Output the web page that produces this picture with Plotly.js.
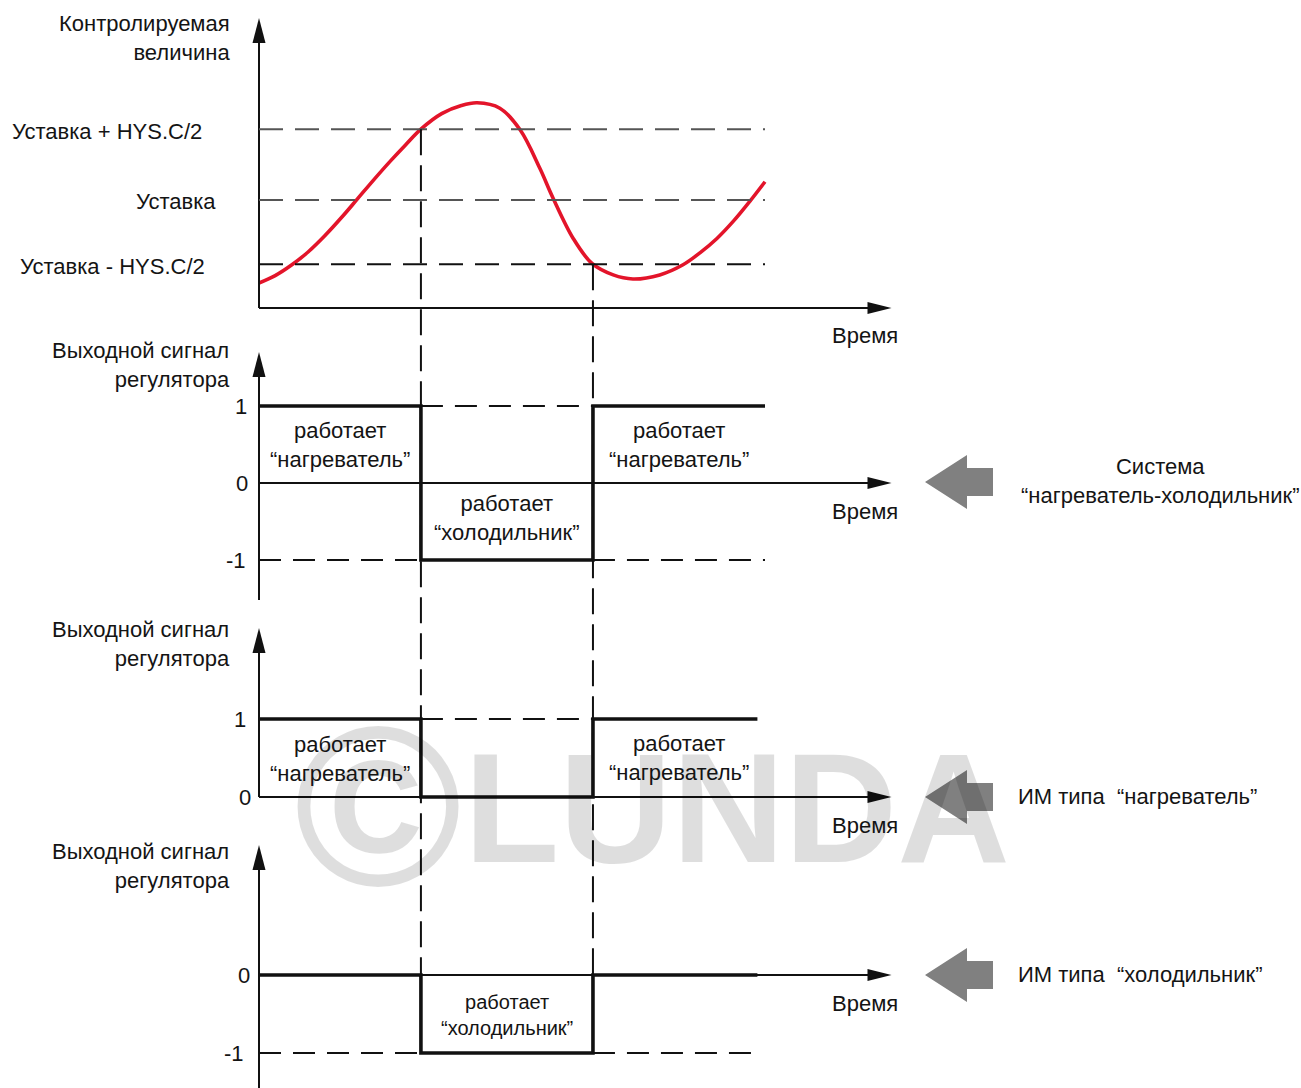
<!DOCTYPE html>
<html>
<head>
<meta charset="utf-8">
<script src="https://cdn.plot.ly/plotly-3.0.1.min.js"></script>
<style>html,body{margin:0;padding:0;background:#fff;}#chart{width:1301px;height:1088px;}</style>
</head>
<body>
<div id="chart"></div>
<script>
// ---------------- DATA ----------------
// Controlled value (red curve), time in arbitrary units
const curveTime  = [0, 0.32, 0.65, 0.97, 1.30, 1.63, 1.95, 2.28, 2.60, 2.90, 3.20, 3.61, 4.00, 4.31, 4.76, 5.16, 5.55, 5.81, 6.21, 6.58, 7.00, 7.39, 7.92, 8.38, 8.72, 9.05, 9.38, 9.70, 10.0];
const curveValue = [0.37, 0.48, 0.64, 0.83, 1.07, 1.34, 1.62, 1.91, 2.18, 2.42, 2.65, 2.88, 3.00, 3.04, 2.96, 2.64, 2.07, 1.63, 1.03, 0.66, 0.49, 0.43, 0.49, 0.64, 0.82, 1.03, 1.29, 1.58, 1.87];
// Threshold levels
const levelLabels = ['Уставка + HYS.C/2', 'Уставка', 'Уставка - HYS.C/2'];
const levelValues = [2.65, 1.6, 0.65];
// Switching moments
const switchTimes = [3.2, 6.6];
// Output signals
const sysTime     = [0, 3.2, 6.6, 10.0];
const sysSignal   = [1, -1, 1, 1];
const heatTime    = [0, 3.2, 6.6, 9.85];
const heatSignal  = [1, 0, 1, 1];
const coolTime    = [0, 3.2, 6.6, 9.85];
const coolSignal  = [0, -1, 0, 0];
const endTime = 10.0;
const endTimeShort = 9.85;
const axisEnd = 12.5;
// Texts
const yTitleTop = 'Контролируемая<br>величина';
const yTitleOut = 'Выходной сигнал<br>регулятора';
const timeLabel = 'Время';
const heatText = 'работает<br>“нагреватель”';
const coolText = 'работает<br>“холодильник”';
const sideTexts = ['Система<br>“нагреватель-холодильник”', 'ИМ типа \u00A0“нагреватель”', 'ИМ типа \u00A0“холодильник”'];
const watermarkSign = '©';
const watermarkWord = 'LUNDA';

// ---------------- LAYOUT HELPERS ----------------
const W = 1301, H = 1088;
const X0PX = 259, PPX = 50.6;          // time axis origin pixel and px per time unit
const panels = [
  {dom: [10, 318],  zero: 308, ppu: 67.5, tip: 18,  lineBottom: 308, title: 38},
  {dom: [340, 610], zero: 483, ppu: 77,   tip: 352, lineBottom: 600, title: 365},
  {dom: [615, 815], zero: 797, ppu: 78,   tip: 628, lineBottom: 797, title: 644},
  {dom: [830, 1088],zero: 975, ppu: 78,   tip: 845, lineBottom: 1088, title: 866}
];
const py = p => 1 - p / H;
const px = p => p / W;
const valToPaper = (i, v) => py(panels[i].zero - v * panels[i].ppu);
const yname = i => i === 0 ? 'y' : 'y' + (i + 1);

const FONT = 'Liberation Sans, Arial, sans-serif';
const TXT = '#141414';

const layout = {
  width: W, height: H, autosize: false,
  margin: {l: 0, r: 0, t: 0, b: 0, pad: 0},
  paper_bgcolor: '#ffffff', plot_bgcolor: 'rgba(0,0,0,0)',
  showlegend: false,
  font: {family: FONT, size: 22, color: TXT},
  xaxis: {domain: [0, 1], range: [-X0PX / PPX, (W - X0PX) / PPX], visible: false, fixedrange: true},
  shapes: [], annotations: []
};
panels.forEach((p, i) => {
  const key = i === 0 ? 'yaxis' : 'yaxis' + (i + 1);
  layout[key] = {
    domain: [py(p.dom[1]), py(p.dom[0])],
    range: [(p.zero - p.dom[1]) / p.ppu, (p.zero - p.dom[0]) / p.ppu],
    visible: false, fixedrange: true, anchor: 'x'
  };
});

// ---------------- TRACES ----------------
const traces = [
  {x: curveTime, y: curveValue, xaxis: 'x', yaxis: 'y', mode: 'lines',
   line: {color: '#e3142a', width: 3.6, shape: 'spline', smoothing: 1.0}, hoverinfo: 'skip'},
  {x: sysTime, y: sysSignal, xaxis: 'x', yaxis: 'y2', mode: 'lines',
   line: {color: '#111', width: 3.6, shape: 'hv'}, hoverinfo: 'skip'},
  {x: heatTime, y: heatSignal, xaxis: 'x', yaxis: 'y3', mode: 'lines',
   line: {color: '#111', width: 3.6, shape: 'hv'}, hoverinfo: 'skip'},
  {x: coolTime, y: coolSignal, xaxis: 'x', yaxis: 'y4', mode: 'lines',
   line: {color: '#111', width: 3.6, shape: 'hv'}, hoverinfo: 'skip'}
];

// ---------------- WATERMARK ----------------
const WM = 'rgba(0,0,0,0.13)';
layout.annotations.push({
  text: '<b>' + watermarkSign + '</b>', xref: 'paper', yref: 'paper', x: px(378), y: py(806),
  xanchor: 'center', yanchor: 'middle', showarrow: false,
  font: {family: FONT, size: 228, color: WM}
});
layout.annotations.push({
  text: '<b>' + watermarkWord + '</b>', xref: 'paper', yref: 'paper', x: px(462), y: py(808),
  xanchor: 'left', yanchor: 'middle', showarrow: false,
  font: {family: FONT, size: 156, color: WM}
});

// ---------------- AXES (lines + arrows) ----------------
const S = layout.shapes;
panels.forEach((p, i) => {
  S.push({type: 'line', xref: 'x', yref: 'paper', x0: 0, x1: 0, y0: py(p.lineBottom), y1: py(p.tip + 12),
          line: {color: '#111', width: 2}});
  S.push({type: 'path', xref: 'x', yref: 'paper', xsizemode: 'pixel', ysizemode: 'pixel',
          xanchor: 0, yanchor: py(p.tip), path: 'M0,0 L-6.5,-25 L6.5,-25 Z',
          fillcolor: '#111', line: {width: 0}});
  S.push({type: 'line', xref: 'x', yref: 'paper', x0: 0, x1: axisEnd - 0.2, y0: valToPaper(i, 0), y1: valToPaper(i, 0),
          line: {color: '#111', width: 2}});
  S.push({type: 'path', xref: 'x', yref: 'paper', xsizemode: 'pixel', ysizemode: 'pixel',
          xanchor: axisEnd, yanchor: valToPaper(i, 0), path: 'M0,0 L-24,6 L-24,-6 Z',
          fillcolor: '#111', line: {width: 0}});
  layout.annotations.push({text: timeLabel, xref: 'x', yref: yname(i), x: (830 - X0PX) / PPX, y: 0,
    xanchor: 'left', yanchor: 'middle', yshift: -28, showarrow: false});
  layout.annotations.push({text: i === 0 ? yTitleTop : yTitleOut, xref: 'paper', yref: 'paper',
    x: px(232), y: py(p.title), xanchor: 'right', yanchor: 'middle', align: 'right', showarrow: false});
});

// ---------------- PANEL 1: levels ----------------
const levelColors = ['#555', '#555', '#111'];
const levelRight = [204, 218, 207];
levelValues.forEach((v, k) => {
  S.push({type: 'line', xref: 'x', yref: 'y', x0: 0, x1: endTime, y0: v, y1: v,
          line: {color: levelColors[k], width: 2, dash: '24px,12px'}});
  layout.annotations.push({text: levelLabels[k], xref: 'paper', yref: 'y', x: px(levelRight[k]), y: v,
    yshift: -2, xanchor: 'right', yanchor: 'middle', showarrow: false});
});

// vertical guides at switching times
S.push({type: 'line', xref: 'x', yref: 'paper', x0: switchTimes[0], x1: switchTimes[0],
        y0: valToPaper(0, levelValues[0]), y1: valToPaper(3, 0), line: {color: '#111', width: 2, dash: '26px,10px'}});
S.push({type: 'line', xref: 'x', yref: 'paper', x0: switchTimes[1], x1: switchTimes[1],
        y0: valToPaper(0, levelValues[2]), y1: valToPaper(3, 0), line: {color: '#111', width: 2, dash: '26px,10px'}});

// dashed helper lines in signal panels
const dash = {color: '#111', width: 2, dash: '22px,12px'};
function hd(yref, xa, xb, v) { S.push({type: 'line', xref: 'x', yref: yref, x0: xa, x1: xb, y0: v, y1: v, line: dash}); }
hd('y2', switchTimes[0], switchTimes[1], 1);
hd('y2', 0, switchTimes[0], -1);
hd('y2', switchTimes[1], endTime, -1);
hd('y3', switchTimes[0], switchTimes[1], 1);
hd('y4', 0, switchTimes[0], -1);
hd('y4', switchTimes[1], endTimeShort, -1);

// tick labels
function tick(yref, v, right) {
  layout.annotations.push({text: String(v), xref: 'paper', yref: yref, x: px(right), y: v,
    xanchor: 'right', yanchor: 'middle', showarrow: false});
}
tick('y2', 1, 249); tick('y2', 0, 250); tick('y2', -1, 248);
tick('y3', 1, 248); tick('y3', 0, 253);
tick('y4', 0, 252); tick('y4', -1, 246);

// state texts
function state(yref, t, xa, xb, v, size) {
  layout.annotations.push({text: t, xref: 'x', yref: yref, x: (xa + xb) / 2, y: v,
    xanchor: 'center', yanchor: 'middle', align: 'center', showarrow: false,
    font: {size: size || 22}});
}
state('y2', heatText, 0, switchTimes[0], 0.5);
state('y2', heatText, switchTimes[1], endTime, 0.5);
state('y2', coolText, switchTimes[0], switchTimes[1], -0.45);
state('y3', heatText, 0, switchTimes[0], 0.49);
state('y3', heatText, switchTimes[1], endTime, 0.5);
state('y4', coolText, switchTimes[0], switchTimes[1], -0.51, 20);

// big grey pointer arrows + side texts
const sideY = [482, 797, 975];
sideY.forEach((cy, k) => {
  S.push({type: 'path', xref: 'paper', yref: 'paper', xsizemode: 'pixel', ysizemode: 'pixel',
          xanchor: px(925), yanchor: py(cy),
          path: 'M0,0 L42,27 L42,14 L68,14 L68,-14 L42,-14 L42,-27 Z',
          fillcolor: '#808080', line: {width: 0}});
  if (k === 0) {
    layout.annotations.push({text: sideTexts[k], xref: 'paper', yref: 'paper', x: px(1160), y: py(481),
      xanchor: 'center', yanchor: 'middle', align: 'center', showarrow: false});
  } else {
    layout.annotations.push({text: sideTexts[k], xref: 'paper', yref: 'paper', x: px(1016), y: py(cy - 1),
      xanchor: 'left', yanchor: 'middle', showarrow: false});
  }
});

Plotly.newPlot('chart', traces, layout, {staticPlot: true, displayModeBar: false});
</script>
</body>
</html>
